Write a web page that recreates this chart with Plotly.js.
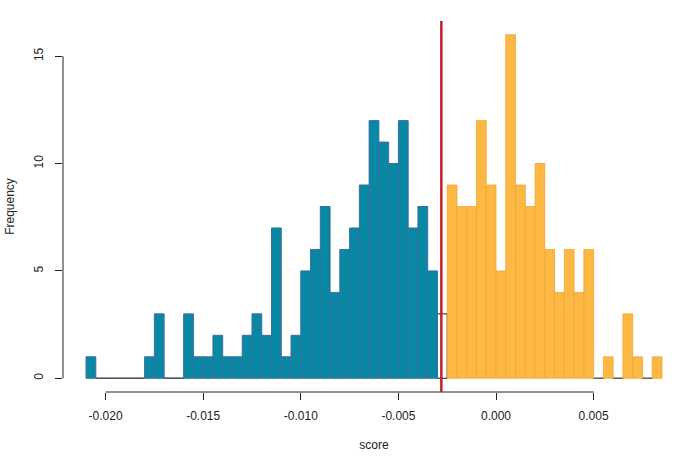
<!DOCTYPE html>
<html>
<head>
<meta charset="utf-8">
<script src="https://cdn.plot.ly/plotly-3.0.1.min.js"></script>
<style>html,body{margin:0;padding:0;background:#fff;}#chart{width:685px;height:470px;}</style>
</head>
<body>
<div id="chart"></div>
<script>
// ---- data ----
const binWidth = 0.0005;
const tealStarts = [-0.021,-0.0205,-0.020,-0.0195,-0.019,-0.0185,-0.018,-0.0175,-0.017,-0.0165,
  -0.016,-0.0155,-0.015,-0.0145,-0.014,-0.0135,-0.013,-0.0125,-0.012,-0.0115,
  -0.011,-0.0105,-0.010,-0.0095,-0.009,-0.0085,-0.008,-0.0075,-0.007,-0.0065,
  -0.006,-0.0055,-0.005,-0.0045,-0.004,-0.0035];
const tealCounts = [1,0,0,0,0,0,1,3,0,0,
  3,1,1,2,1,1,2,3,2,7,
  1,2,5,6,8,4,6,7,9,12,
  11,10,12,7,8,5];
const splitStarts = [-0.003];
const splitCounts = [3];
const orangeStarts = [-0.0025,-0.002,-0.0015,-0.001,-0.0005,0.000,0.0005,0.001,0.0015,0.002,
  0.0025,0.003,0.0035,0.004,0.0045,0.005,0.0055,0.006,0.0065,0.007,0.0075,0.008];
const orangeCounts = [9,8,8,12,9,5,16,9,8,10,
  6,4,6,4,6,0,1,0,3,1,0,1];
const threshold = -0.0028;
const xTickVals = [-0.020,-0.015,-0.010,-0.005,0.000,0.005];
const xTickText = ["-0.020","-0.015","-0.010","-0.005","0.000","0.005"];
const yTickVals = [0,5,10,15];
const yTickText = ["0","5","10","15"];

// zero-count bins are drawn as a baseline segment (as R's hist does)
const allStarts = tealStarts.concat(splitStarts, orangeStarts);
const allCounts = tealCounts.concat(splitCounts, orangeCounts);
const baseX = [], baseY = [];
allStarts.forEach((s, i) => {
  if (allCounts[i] === 0) { baseX.push(s, s + binWidth, null); baseY.push(0, 0, null); }
});

const font = {family: "Liberation Sans, Arial, sans-serif", size: 12, color: "#222"};

const traces = [
  {type: "scatter", mode: "lines", x: baseX, y: baseY, line: {color: "#555", width: 1.3},
   hoverinfo: "skip", showlegend: false},
  {type: "bar", x: splitStarts, y: splitCounts, width: binWidth, offset: 0,
   marker: {color: "rgba(255,255,255,0)", line: {color: "#111", width: 1}}, showlegend: false},
  {type: "bar", x: tealStarts, y: tealCounts, width: binWidth, offset: 0,
   marker: {color: "#0888A2", line: {color: "#3A6CA8", width: 1}}, showlegend: false},
  {type: "bar", x: orangeStarts, y: orangeCounts, width: binWidth, offset: 0,
   marker: {color: "#FDB844", line: {color: "#F2A536", width: 0.8}}, showlegend: false}
];

const layout = {
  width: 685, height: 470,
  margin: {l: 63, r: 0, t: 21, b: 78},
  paper_bgcolor: "#fff", plot_bgcolor: "#fff",
  barmode: "overlay", bargap: 0,
  font: font,
  showlegend: false,
  xaxis: {
    range: [-0.02218, 0.00968], showgrid: false, zeroline: false, showline: false,
    ticks: "outside", ticklen: 7, tickwidth: 1, tickcolor: "#222",
    tickmode: "array", tickvals: xTickVals, ticktext: xTickText,
    tickfont: font, ticklabelstandoff: 6,
    title: {text: "score", font: font, standoff: 18}
  },
  yaxis: {
    range: [-0.64, 16.64], showgrid: false, zeroline: false, showline: false,
    ticks: "outside", ticklen: 7, tickwidth: 1, tickcolor: "#222",
    tickmode: "array", tickvals: yTickVals, ticktext: yTickText, tickangle: -90,
    tickfont: font, ticklabelstandoff: 7,
    title: {text: "Frequency", font: font, standoff: 15}
  },
  shapes: [
    {type: "line", xref: "x", yref: "paper", x0: xTickVals[0], x1: xTickVals[xTickVals.length-1], y0: 0, y1: 0,
     line: {color: "#222", width: 1}},
    {type: "line", xref: "paper", yref: "y", x0: 0, x1: 0, y0: yTickVals[0], y1: yTickVals[yTickVals.length-1],
     line: {color: "#222", width: 1}},
    {type: "line", xref: "x", yref: "paper", x0: threshold, x1: threshold, y0: 0, y1: 1,
     line: {color: "#C41E2E", width: 2.5}}
  ]
};

Plotly.newPlot("chart", traces, layout, {staticPlot: true, displayModeBar: false});
</script>
</body>
</html>
